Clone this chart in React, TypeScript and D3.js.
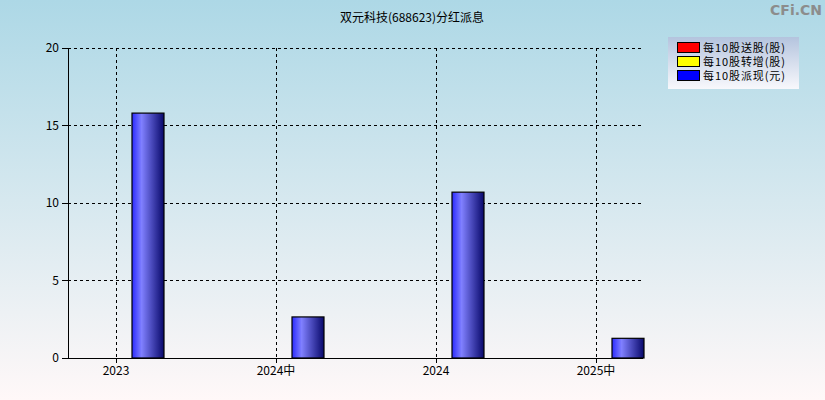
import React, { useEffect, useRef } from 'react';
import * as d3 from 'd3';

const categories = ['2023', '2024中', '2024', '2025中'];
const songgu = [0, 0, 0, 0];
const zhuanzeng = [0, 0, 0, 0];
const paixian = [15.8, 2.65, 10.7, 1.27];
const yTicks = [0, 5, 10, 15, 20];
const legendLabels = ['每10股送股(股)', '每10股转增(股)', '每10股派现(元)'];
const legendColors = ['#ff0000', '#ffff00', '#0000ff'];

const W = 825;
const H = 400;
const FONT = '"Noto Sans CJK SC", "DejaVu Sans", sans-serif';

const App: React.FC = () => {
  const svgRef = useRef<SVGSVGElement>(null);

  useEffect(() => {
    if (!svgRef.current) return;
    const svg = d3.select(svgRef.current);
    svg.selectAll('*').remove();

    const defs = svg.append('defs');
    const bg = defs.append('linearGradient').attr('id', 'bg').attr('x1', 0).attr('y1', 0).attr('x2', 0).attr('y2', 1);
    bg.append('stop').attr('offset', '0%').attr('stop-color', '#add8e6');
    bg.append('stop').attr('offset', '100%').attr('stop-color', '#fff8f8');

    const barG = defs.append('linearGradient').attr('id', 'bar').attr('x1', 0).attr('y1', 0).attr('x2', 1).attr('y2', 0);
    barG.append('stop').attr('offset', '0%').attr('stop-color', '#2a2aff');
    barG.append('stop').attr('offset', '30%').attr('stop-color', '#8080ff');
    barG.append('stop').attr('offset', '100%').attr('stop-color', '#08086a');

    const lg = defs.append('linearGradient').attr('id', 'lg').attr('x1', 0).attr('y1', 0).attr('x2', 0).attr('y2', 1);
    lg.append('stop').attr('offset', '0%').attr('stop-color', '#b4c4de');
    lg.append('stop').attr('offset', '100%').attr('stop-color', '#f8f8fc');

    svg.append('rect').attr('width', W).attr('height', H).attr('fill', 'url(#bg)');

    const left = 68, right = 643, top = 48, bottom = 358;
    const y = d3.scaleLinear().domain([0, 20]).range([bottom, top]);
    const x = d3.scalePoint<string>().domain(categories).range([148, 628]);
    const barW = 32;
    const tickOff = -32;

    // grid
    yTicks.forEach(t => {
      if (t === 0) return;
      svg.append('line').attr('x1', left).attr('x2', right).attr('y1', y(t)).attr('y2', y(t))
        .attr('stroke', '#000').attr('stroke-dasharray', '3,3').attr('shape-rendering', 'crispEdges');
    });
    categories.forEach(c => {
      const gx = (x(c) as number) + tickOff;
      svg.append('line').attr('x1', gx).attr('x2', gx).attr('y1', top).attr('y2', bottom)
        .attr('stroke', '#000').attr('stroke-dasharray', '3,3').attr('shape-rendering', 'crispEdges');
    });

    // bars (送股, 转增 are zero)
    const stacks = [songgu, zhuanzeng, paixian];
    categories.forEach((c, i) => {
      const v = stacks[2][i];
      if (v <= 0) return;
      const cx = x(c) as number;
      svg.append('rect')
        .attr('x', cx - barW / 2).attr('y', y(v))
        .attr('width', barW).attr('height', bottom - y(v))
        .attr('fill', 'url(#bar)').attr('stroke', '#000').attr('stroke-width', 1.2);
    });

    // axes
    svg.append('line').attr('x1', left).attr('x2', left).attr('y1', top).attr('y2', bottom).attr('stroke', '#000').attr('shape-rendering', 'crispEdges');
    svg.append('line').attr('x1', left).attr('x2', right).attr('y1', bottom).attr('y2', bottom).attr('stroke', '#000').attr('shape-rendering', 'crispEdges');

    yTicks.forEach(t => {
      svg.append('line').attr('x1', left - 6).attr('x2', left).attr('y1', y(t)).attr('y2', y(t)).attr('stroke', '#000').attr('shape-rendering', 'crispEdges');
      svg.append('text').attr('x', left - 9).attr('y', y(t) + 4).attr('text-anchor', 'end')
        .attr('font-size', 12).attr('font-family', FONT).attr('fill', '#000').text(String(t));
    });
    categories.forEach(c => {
      const gx = (x(c) as number) + tickOff;
      svg.append('line').attr('x1', gx).attr('x2', gx).attr('y1', bottom).attr('y2', bottom + 5).attr('stroke', '#000').attr('shape-rendering', 'crispEdges');
      svg.append('text').attr('x', gx).attr('y', bottom + 17).attr('text-anchor', 'middle')
        .attr('font-size', 12).attr('font-family', FONT).attr('fill', '#000').text(c);
    });

    // title
    svg.append('text').attr('x', 412).attr('y', 22).attr('text-anchor', 'middle')
      .attr('font-size', 12).attr('font-family', FONT).attr('fill', '#000').text('双元科技(688623)分红派息');

    // watermark
    svg.append('text').attr('x', 822).attr('y', 15).attr('text-anchor', 'end')
      .attr('font-size', 14).attr('font-weight', 'bold').attr('font-family', '"DejaVu Sans", sans-serif')
      .attr('fill', '#8c8c8c').text('CFi.CN');

    // legend
    svg.append('rect').attr('x', 668).attr('y', 37).attr('width', 131).attr('height', 52).attr('fill', 'url(#lg)');
    legendLabels.forEach((l, i) => {
      const ly = 42 + i * 14;
      svg.append('rect').attr('x', 677.5).attr('y', ly + 0.5).attr('width', 22).attr('height', 10)
        .attr('fill', legendColors[i]).attr('stroke', '#000');
      svg.append('text').attr('x', 703).attr('y', ly + 10).attr('font-size', 11).attr('font-family', FONT)
        .attr('textLength', 82).attr('fill', '#000').text(l);
    });
  }, []);

  return (
    <svg ref={svgRef} width={W} height={H} viewBox={`0 0 ${W} ${H}`}
      style={{ position: 'absolute', left: 0, top: 0, display: 'block' }} />
  );
};

export default App;
